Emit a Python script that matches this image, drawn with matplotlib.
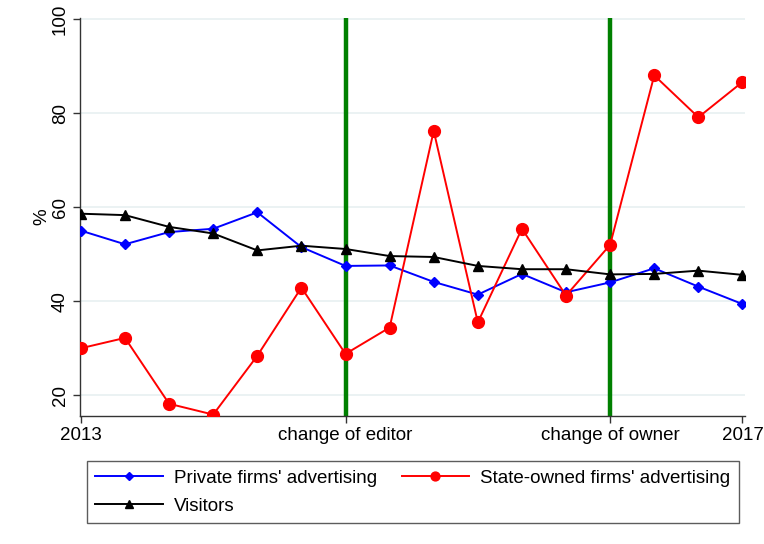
import matplotlib
matplotlib.use("Agg")
import matplotlib.pyplot as plt

plt.rcParams['font.family'] = ['Liberation Sans', 'DejaVu Sans']

# Quarterly shares, 2013 to 2017
periods = list(range(16))
private_ads = [55.0, 52.1, 54.7, 55.4, 58.9, 51.5, 47.5, 47.6,
               44.1, 41.4, 45.8, 41.9, 44.0, 47.0, 43.1, 39.4]
state_ads = [30.0, 32.2, 18.2, 15.9, 28.4, 42.9, 28.8, 34.4,
             76.2, 35.5, 55.4, 41.2, 52.0, 88.0, 79.1, 86.6]
visitors = [58.6, 58.3, 55.8, 54.4, 50.8, 51.8, 51.1, 49.6,
            49.4, 47.5, 46.8, 46.8, 45.7, 45.8, 46.5, 45.6]

event_periods = [6, 12]
xtick_pos = [0, 6, 12, 15]
xtick_labels = ['2013', 'change of editor', 'change of owner', '2017']
ytick_vals = [20, 40, 60, 80, 100]

fig = plt.figure(figsize=(7.64, 5.44), dpi=100)
ax = fig.add_axes([0.1047, 0.2353, 0.870, 0.7316])

for v in ytick_vals:
    ax.axhline(v, color='#e8f0f1', linewidth=1.2, zorder=0)

for e in event_periods:
    ax.axvline(e, color='#008000', linewidth=3.2, zorder=1)

l_priv, = ax.plot(periods, private_ads, color='blue', marker='D', markersize=5.5,
                  linewidth=1.4, label="Private firms' advertising", zorder=3)
l_state, = ax.plot(periods, state_ads, color='red', marker='o', markersize=8.5,
                   linewidth=1.4, label="State-owned firms' advertising", zorder=3)
l_vis, = ax.plot(periods, visitors, color='black', marker='^', markersize=7,
                 linewidth=1.4, label='Visitors', zorder=3)

ax.set_xlim(-0.02, 15.05)
ax.set_ylim(15.6, 100.2)
ax.set_xticks(xtick_pos)
ax.set_xticklabels(xtick_labels, fontsize=13.5)
ax.set_yticks(ytick_vals)
ax.set_yticklabels([str(v) for v in ytick_vals], fontsize=13.5,
                   rotation=90, va='center')
ax.set_ylabel('%', fontsize=13.5, labelpad=1)

for side in ['top', 'right']:
    ax.spines[side].set_visible(False)
for side in ['left', 'bottom']:
    ax.spines[side].set_color('#333333')
    ax.spines[side].set_linewidth(1.0)
ax.tick_params(direction='out', length=5, width=1, color='#333333', pad=3)

# legend fills column by column, so order handles to read row by row
handles = [l_priv, l_vis, l_state]
leg = fig.legend(handles, [h.get_label() for h in handles],
                 loc='upper left', bbox_to_anchor=(0.1139, 0.1526), ncol=2,
                 fontsize=13.5, frameon=True, fancybox=False,
                 edgecolor='#333333', handlelength=3.6, borderpad=0.45,
                 labelspacing=0.6, columnspacing=1.3, handletextpad=0.6,
                 borderaxespad=0, markerscale=0.75)
leg.get_frame().set_linewidth(1.0)

fig.savefig('out.png', dpi=100)
plt.close()
